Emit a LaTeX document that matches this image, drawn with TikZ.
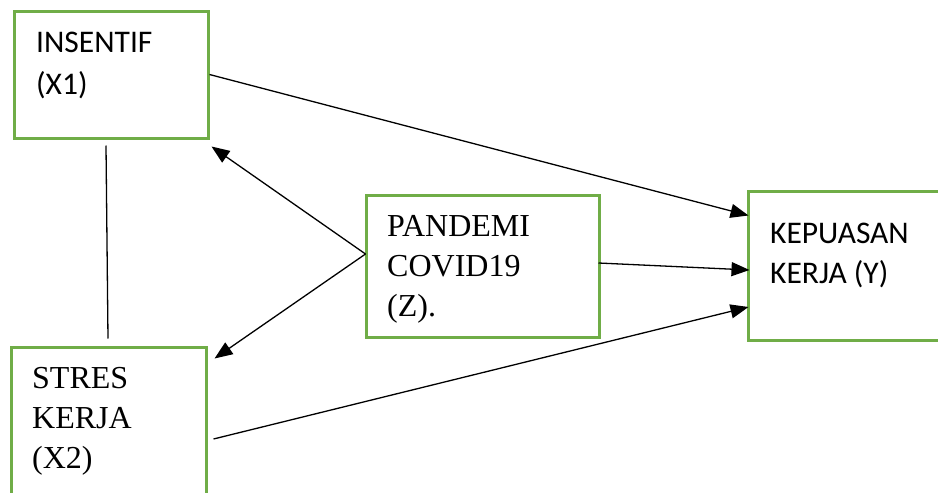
\documentclass[tikz,border=0pt]{standalone}
\usepackage{fontspec}
\setmainfont{Liberation Serif}
\newfontfamily\calfont{Carlito}
\usetikzlibrary{arrows.meta,calc}
\definecolor{boxgreen}{RGB}{112,173,71}
\tikzset{
  x=1pt, y=-1pt,
  varbox/.style={draw=boxgreen, line width=3pt, rectangle, inner sep=0pt},
  sanslbl/.style={anchor=north west, inner sep=0pt, align=left,
    font=\calfont\fontsize{31.5}{42}\selectfont},
  seriflbl/.style={anchor=north west, inner sep=0pt, align=left,
    font=\fontsize{32}{40}\selectfont},
  arr/.style={line width=1.3pt, -{Triangle[length=18pt,width=14pt]}},
  plain/.style={line width=1.3pt}
}
\begin{document}
\begin{tikzpicture}
\useasboundingbox (0,0) rectangle (938,493);
\clip (0,0) rectangle (938,493);
\fill[white] (0,0) rectangle (938,493);

% variable boxes
\node[varbox, minimum width=194pt, minimum height=127pt] (ins) at (111,74.5) {};
\node[varbox, minimum width=195pt, minimum height=173pt] (str) at (108.5,433.5) {};
\node[varbox, minimum width=233pt, minimum height=142pt] (pan) at (482.5,266) {};
\node[varbox, minimum width=212pt, minimum height=149pt] (kep) at (854,265.5) {};

% box labels
\node[sanslbl] (insT) at (36,32) {INSENTIF\\(X1)};
\node[seriflbl] (strT) at (32,367) {STRES\\KERJA\\(X2)};
\node[seriflbl] (panT) at (387,215) {PANDEMI\\COVID19\\(Z).};
\node[sanslbl, font=\calfont\fontsize{31.5}{40}\selectfont] (kepT) at (770,223) {KEPUASAN\\KERJA (Y)};

% connectors
\draw[arr] (ins.east) -- ($(kep.west)+(2,-50)$);
\draw[arr] ($(pan.east)+(-2,-3)$) -- ($(kep.west)+(3,4.5)$);
\draw[arr] ($(str.east)+(6,5.5)$) -- ($(kep.west)+(2,41.5)$);
\draw[arr] ($(pan.west)+(1,-12)$) -- ($(ins.south east)+(2,7)$);
\draw[arr] ($(pan.west)+(1,-12)$) -- ($(str.north east)+(7,13)$);
\draw[plain] ($(ins.south)+(-5,6)$) -- ($(str.north)+(-0.5,-7)$);
\end{tikzpicture}
\end{document}
